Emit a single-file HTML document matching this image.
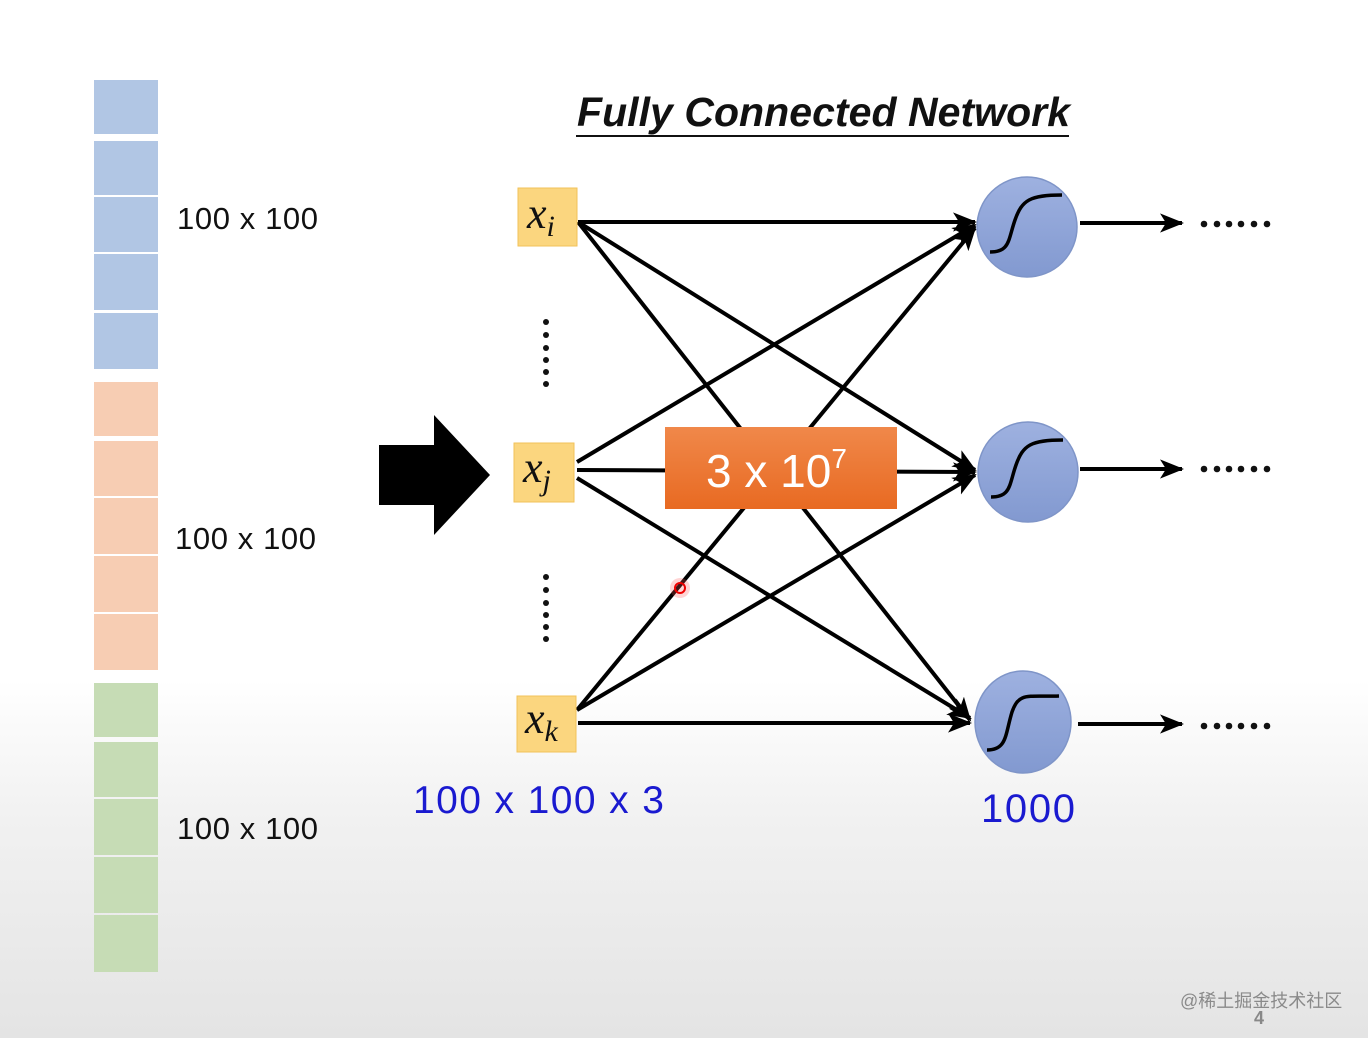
<!DOCTYPE html>
<html><head><meta charset="utf-8"><style>
html,body{margin:0;padding:0;}
body{width:1368px;height:1038px;overflow:hidden;background:linear-gradient(#fff 0px,#fff 680px,#f1f1f1 820px,#e4e4e4 1038px);}
svg{display:block}
</style></head><body>
<svg width="1368" height="1038" xmlns="http://www.w3.org/2000/svg" font-family="Liberation Sans, sans-serif">
<defs>
<marker id="ah" markerWidth="6" markerHeight="6" refX="5.5" refY="3" orient="auto" markerUnits="strokeWidth">
<path d="M0,0.6 L6,3 L0,5.4 L1.5,3 Z" fill="#000"/></marker>
<linearGradient id="og" x1="0" y1="0" x2="0" y2="1"><stop offset="0" stop-color="#f0884a"/><stop offset="1" stop-color="#e86a22"/></linearGradient>
<linearGradient id="cg" x1="0" y1="0" x2="0" y2="1"><stop offset="0" stop-color="#9eb1e0"/><stop offset="1" stop-color="#8299d0"/></linearGradient>
<g id="dots6" fill="#111"><circle cx="0" cy="0" r="3.3"/><circle cx="13" cy="0" r="3.3"/><circle cx="25" cy="0" r="3.3"/><circle cx="37" cy="0" r="3.3"/><circle cx="50" cy="0" r="3.3"/><circle cx="63" cy="0" r="3.3"/></g>
</defs>
<g fill="#b1c6e4">
<rect x="94" y="80" width="64" height="54"/><rect x="94" y="141" width="64" height="54"/><rect x="94" y="197" width="64" height="55"/><rect x="94" y="254" width="64" height="56"/><rect x="94" y="313" width="64" height="56"/>
</g>
<g fill="#f7cdb3">
<rect x="94" y="382" width="64" height="54"/><rect x="94" y="441" width="64" height="55"/><rect x="94" y="498" width="64" height="56"/><rect x="94" y="556" width="64" height="56"/><rect x="94" y="614" width="64" height="56"/>
</g>
<g fill="#c6dcb5">
<rect x="94" y="683" width="64" height="54"/><rect x="94" y="742" width="64" height="55"/><rect x="94" y="799" width="64" height="56"/><rect x="94" y="857" width="64" height="56"/><rect x="94" y="915" width="64" height="57"/>
</g>
<g font-size="31" fill="#111">
<text x="177" y="229" textLength="141">100 x 100</text>
<text x="175" y="549" textLength="141">100 x 100</text>
<text x="177" y="839" textLength="141">100 x 100</text>
</g>
<path d="M379,445 H434 V415 L490,475 L434,535 V505 H379 Z" fill="#000"/>
<text x="577" y="126" font-size="41" font-weight="bold" font-style="italic" fill="#111" textLength="493">Fully Connected Network</text>
<line x1="576" y1="136" x2="1069" y2="136" stroke="#111" stroke-width="2"/>
<g stroke="#000" stroke-width="4" fill="none" marker-end="url(#ah)">
<line x1="578" y1="222" x2="975" y2="222"/>
<line x1="578" y1="222" x2="975" y2="470"/>
<line x1="578" y1="222" x2="970" y2="720"/>
<line x1="577" y1="462" x2="975" y2="225"/>
<line x1="577" y1="470" x2="975" y2="472"/>
<line x1="577" y1="478" x2="970" y2="718"/>
<line x1="577" y1="710" x2="975" y2="228"/>
<line x1="577" y1="710" x2="975" y2="475"/>
<line x1="578" y1="723" x2="970" y2="723"/>
<line x1="1080" y1="223" x2="1182" y2="223"/>
<line x1="1080" y1="469" x2="1182" y2="469"/>
<line x1="1078" y1="724" x2="1182" y2="724"/>
</g>
<rect x="518" y="188" width="59" height="58" fill="#fbd67f" stroke="#f2c25a"/>
<rect x="514" y="443" width="60" height="59" fill="#fbd67f" stroke="#f2c25a"/>
<rect x="517" y="696" width="59" height="56" fill="#fbd67f" stroke="#f2c25a"/>
<g font-family="Liberation Serif, serif" font-style="italic" fill="#111">
<text x="527" y="228" font-size="44">x<tspan font-size="30" dy="8">i</tspan></text>
<text x="523" y="482" font-size="44">x<tspan font-size="30" dy="8">j</tspan></text>
<text x="525" y="733" font-size="44">x<tspan font-size="30" dy="8">k</tspan></text>
</g>
<g fill="#111">
<circle cx="546" cy="322" r="3"/><circle cx="546" cy="335" r="3"/><circle cx="546" cy="348" r="3"/><circle cx="546" cy="360" r="3"/><circle cx="546" cy="372" r="3"/><circle cx="546" cy="384" r="3"/>
<circle cx="546" cy="577" r="3"/><circle cx="546" cy="590" r="3"/><circle cx="546" cy="603" r="3"/><circle cx="546" cy="615" r="3"/><circle cx="546" cy="627" r="3"/><circle cx="546" cy="639" r="3"/>
</g>
<use href="#dots6" x="1204" y="224"/>
<use href="#dots6" x="1204" y="469"/>
<use href="#dots6" x="1204" y="726"/>
<rect x="665" y="427" width="232" height="82" fill="url(#og)"/>
<text x="706" y="487" font-size="46" fill="#fff">3 x 10<tspan font-size="28" dy="-19">7</tspan></text>
<g fill="url(#cg)" stroke="#7f95c8" stroke-width="1.5">
<circle cx="1027" cy="227" r="50"/>
<circle cx="1028" cy="472" r="50"/>
<ellipse cx="1023" cy="722" rx="48" ry="51"/>
</g>
<g stroke="#000" stroke-width="3.5" fill="none">
<path d="M990,252 C1010,252 1008,240 1015,220 C1022,200 1030,195 1062,195"/>
<path d="M991,497 C1011,497 1009,485 1016,465 C1023,445 1031,440 1063,440"/>
<path d="M987,750 C1007,750 1005,735 1012,712 C1019,692 1027,697 1059,696"/>
</g>
<text x="413" y="813" font-size="39" fill="#1a1ad0" textLength="251">100 x 100 x 3</text>
<text x="981" y="822" font-size="40" fill="#1a1ad0" textLength="94">1000</text>
<circle cx="680" cy="588" r="10" fill="#ff5555" opacity="0.25"/>
<circle cx="680" cy="588" r="5" fill="none" stroke="#e00" stroke-width="2"/>
<text x="1180" y="1007" font-size="18" fill="#8a8a8a" font-family="Liberation Sans, Noto Sans CJK SC, sans-serif">@稀土掘金技术社区</text>
<text x="1254" y="1024" font-size="18" font-weight="bold" fill="#888">4</text>
</svg>
</body></html>
